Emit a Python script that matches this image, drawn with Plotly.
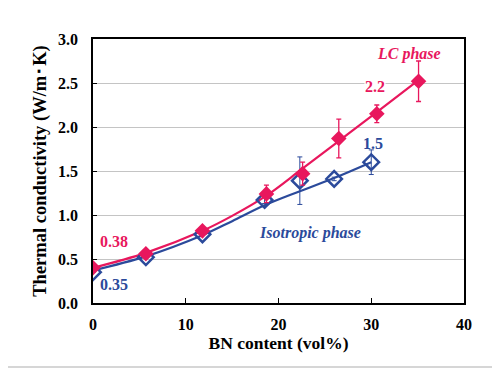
import plotly.graph_objects as go

# LC phase (filled pink diamonds)
lc_x = [0, 5.7, 11.8, 18.7, 22.6, 26.5, 30.6, 35.1]
lc_y = [0.40, 0.56, 0.82, 1.24, 1.47, 1.87, 2.15, 2.52]
lc_err = [0.02, 0.02, 0.02, 0.10, 0.13, 0.22, 0.10, 0.23]
# Isotropic phase (open blue diamonds)
iso_x = [0, 5.7, 11.8, 18.5, 22.3, 26.0, 30.0]
iso_y = [0.35, 0.52, 0.78, 1.17, 1.39, 1.41, 1.60]
iso_err = [0.0, 0.0, 0.0, 0.04, 0.27, 0.02, 0.14]
# Trend lines
lc_fit_x = [0, 5.7, 11.8, 15, 18.7, 22.5, 26.5, 30.6, 35.2]
lc_fit_y = [0.40, 0.57, 0.82, 0.99, 1.22, 1.52, 1.84, 2.17, 2.54]
iso_fit_x = [0, 5.7, 11.8, 15, 18.5, 22.3, 26.0, 30.0]
iso_fit_y = [0.37, 0.53, 0.77, 0.93, 1.11, 1.27, 1.42, 1.60]

x_ticks = [0, 10, 20, 30, 40]
y_ticks = [0.0, 0.5, 1.0, 1.5, 2.0, 2.5, 3.0]

PINK = "#E8175D"
BLUE = "#2B4A9B"
FONT = "Liberation Serif, Times New Roman, serif"

fig = go.Figure()
fig.add_trace(go.Scatter(x=lc_fit_x, y=lc_fit_y, mode="lines",
                         line=dict(color=PINK, width=2.2, shape="spline"),
                         hoverinfo="skip", showlegend=False))
fig.add_trace(go.Scatter(x=iso_fit_x, y=iso_fit_y, mode="lines",
                         line=dict(color=BLUE, width=2.2, shape="spline"),
                         hoverinfo="skip", showlegend=False))
fig.add_trace(go.Scatter(x=iso_x, y=iso_y, mode="markers",
                         marker=dict(symbol="diamond-open", size=12, color=BLUE,
                                     line=dict(width=2.5, color=BLUE)),
                         error_y=dict(type="data", array=iso_err, color=BLUE,
                                      thickness=1, width=2.5),
                         showlegend=False))
fig.add_trace(go.Scatter(x=lc_x, y=lc_y, mode="markers",
                         marker=dict(symbol="diamond", size=12, color=PINK),
                         error_y=dict(type="data", array=lc_err, color=PINK,
                                      thickness=1.3, width=2.5),
                         showlegend=False))

def ann(x, y, text, color, italic=False, bg=None):
    t = f"<b><i>{text}</i></b>" if italic else f"<b>{text}</b>"
    fig.add_annotation(x=x, y=y, text=t, showarrow=False,
                       font=dict(family=FONT, size=16, color=color),
                       bgcolor=bg, borderpad=0)

ann(34.1, 2.83, "LC phase", PINK, italic=True)
ann(30.35, 2.46, "2.2", PINK, bg="white")
ann(30.15, 1.815, "1.5", BLUE)
ann(23.4, 0.80, "Isotropic phase", BLUE, italic=True)
ann(2.3, 0.70, "0.38", PINK)
ann(2.3, 0.205, "0.35", BLUE)

# page body adds an 8px offset; plot area target: x 93..464, y 39..303 on screen
OFF = 8
L, T, R, B = 93 - OFF, 39 - OFF, 500 - (464 - OFF), 370 - (303 - OFF)
pw, ph = 464 - 93, 303 - 39
# right and bottom edges of the picture's light-gray frame
fig.add_shape(type="line", xref="paper", yref="paper",
              x0=(495 - 93) / pw, x1=(495 - 93) / pw,
              y0=(303 - 367) / ph, y1=(303 - 8) / ph,
              line=dict(color="#c8c8c8", width=1.5), layer="below")
fig.add_shape(type="line", xref="paper", yref="paper",
              x0=(8 - 93) / pw, x1=(495 - 93) / pw,
              y0=(303 - 367) / ph, y1=(303 - 367) / ph,
              line=dict(color="#c8c8c8", width=1.5), layer="below")

fig.update_layout(
    width=500, height=370,
    margin=dict(l=L, r=R, t=T, b=B),
    paper_bgcolor="white", plot_bgcolor="white",
    font=dict(family=FONT, size=16, color="black"),
    xaxis=dict(range=[0, 40], tickvals=x_ticks, ticktext=[f"<b>{v}</b>" for v in x_ticks],
               showgrid=False, zeroline=False, showline=True, linecolor="black",
               linewidth=1.5, mirror=True, ticks="inside", ticklen=5, tickcolor="black",
               ticklabelstandoff=6, automargin=False,
               title=dict(text="<b>BN content (vol%)</b>", font=dict(size=17.5), standoff=4)),
    yaxis=dict(range=[0, 3.0], tickvals=y_ticks, ticktext=[f"<b>{v:.1f}</b>" for v in y_ticks],
               showgrid=True, gridcolor="#c4c4c4", gridwidth=1, zeroline=False,
               showline=True, linecolor="black", linewidth=1.5, mirror=True,
               ticks="inside", ticklen=4, tickcolor="black", ticklabelstandoff=10,
               automargin=False,
               title=dict(text="<b>Thermal conductivity (W/m･K)</b>", font=dict(size=18.5), standoff=7)),
)

fig.write_html("out.html")
